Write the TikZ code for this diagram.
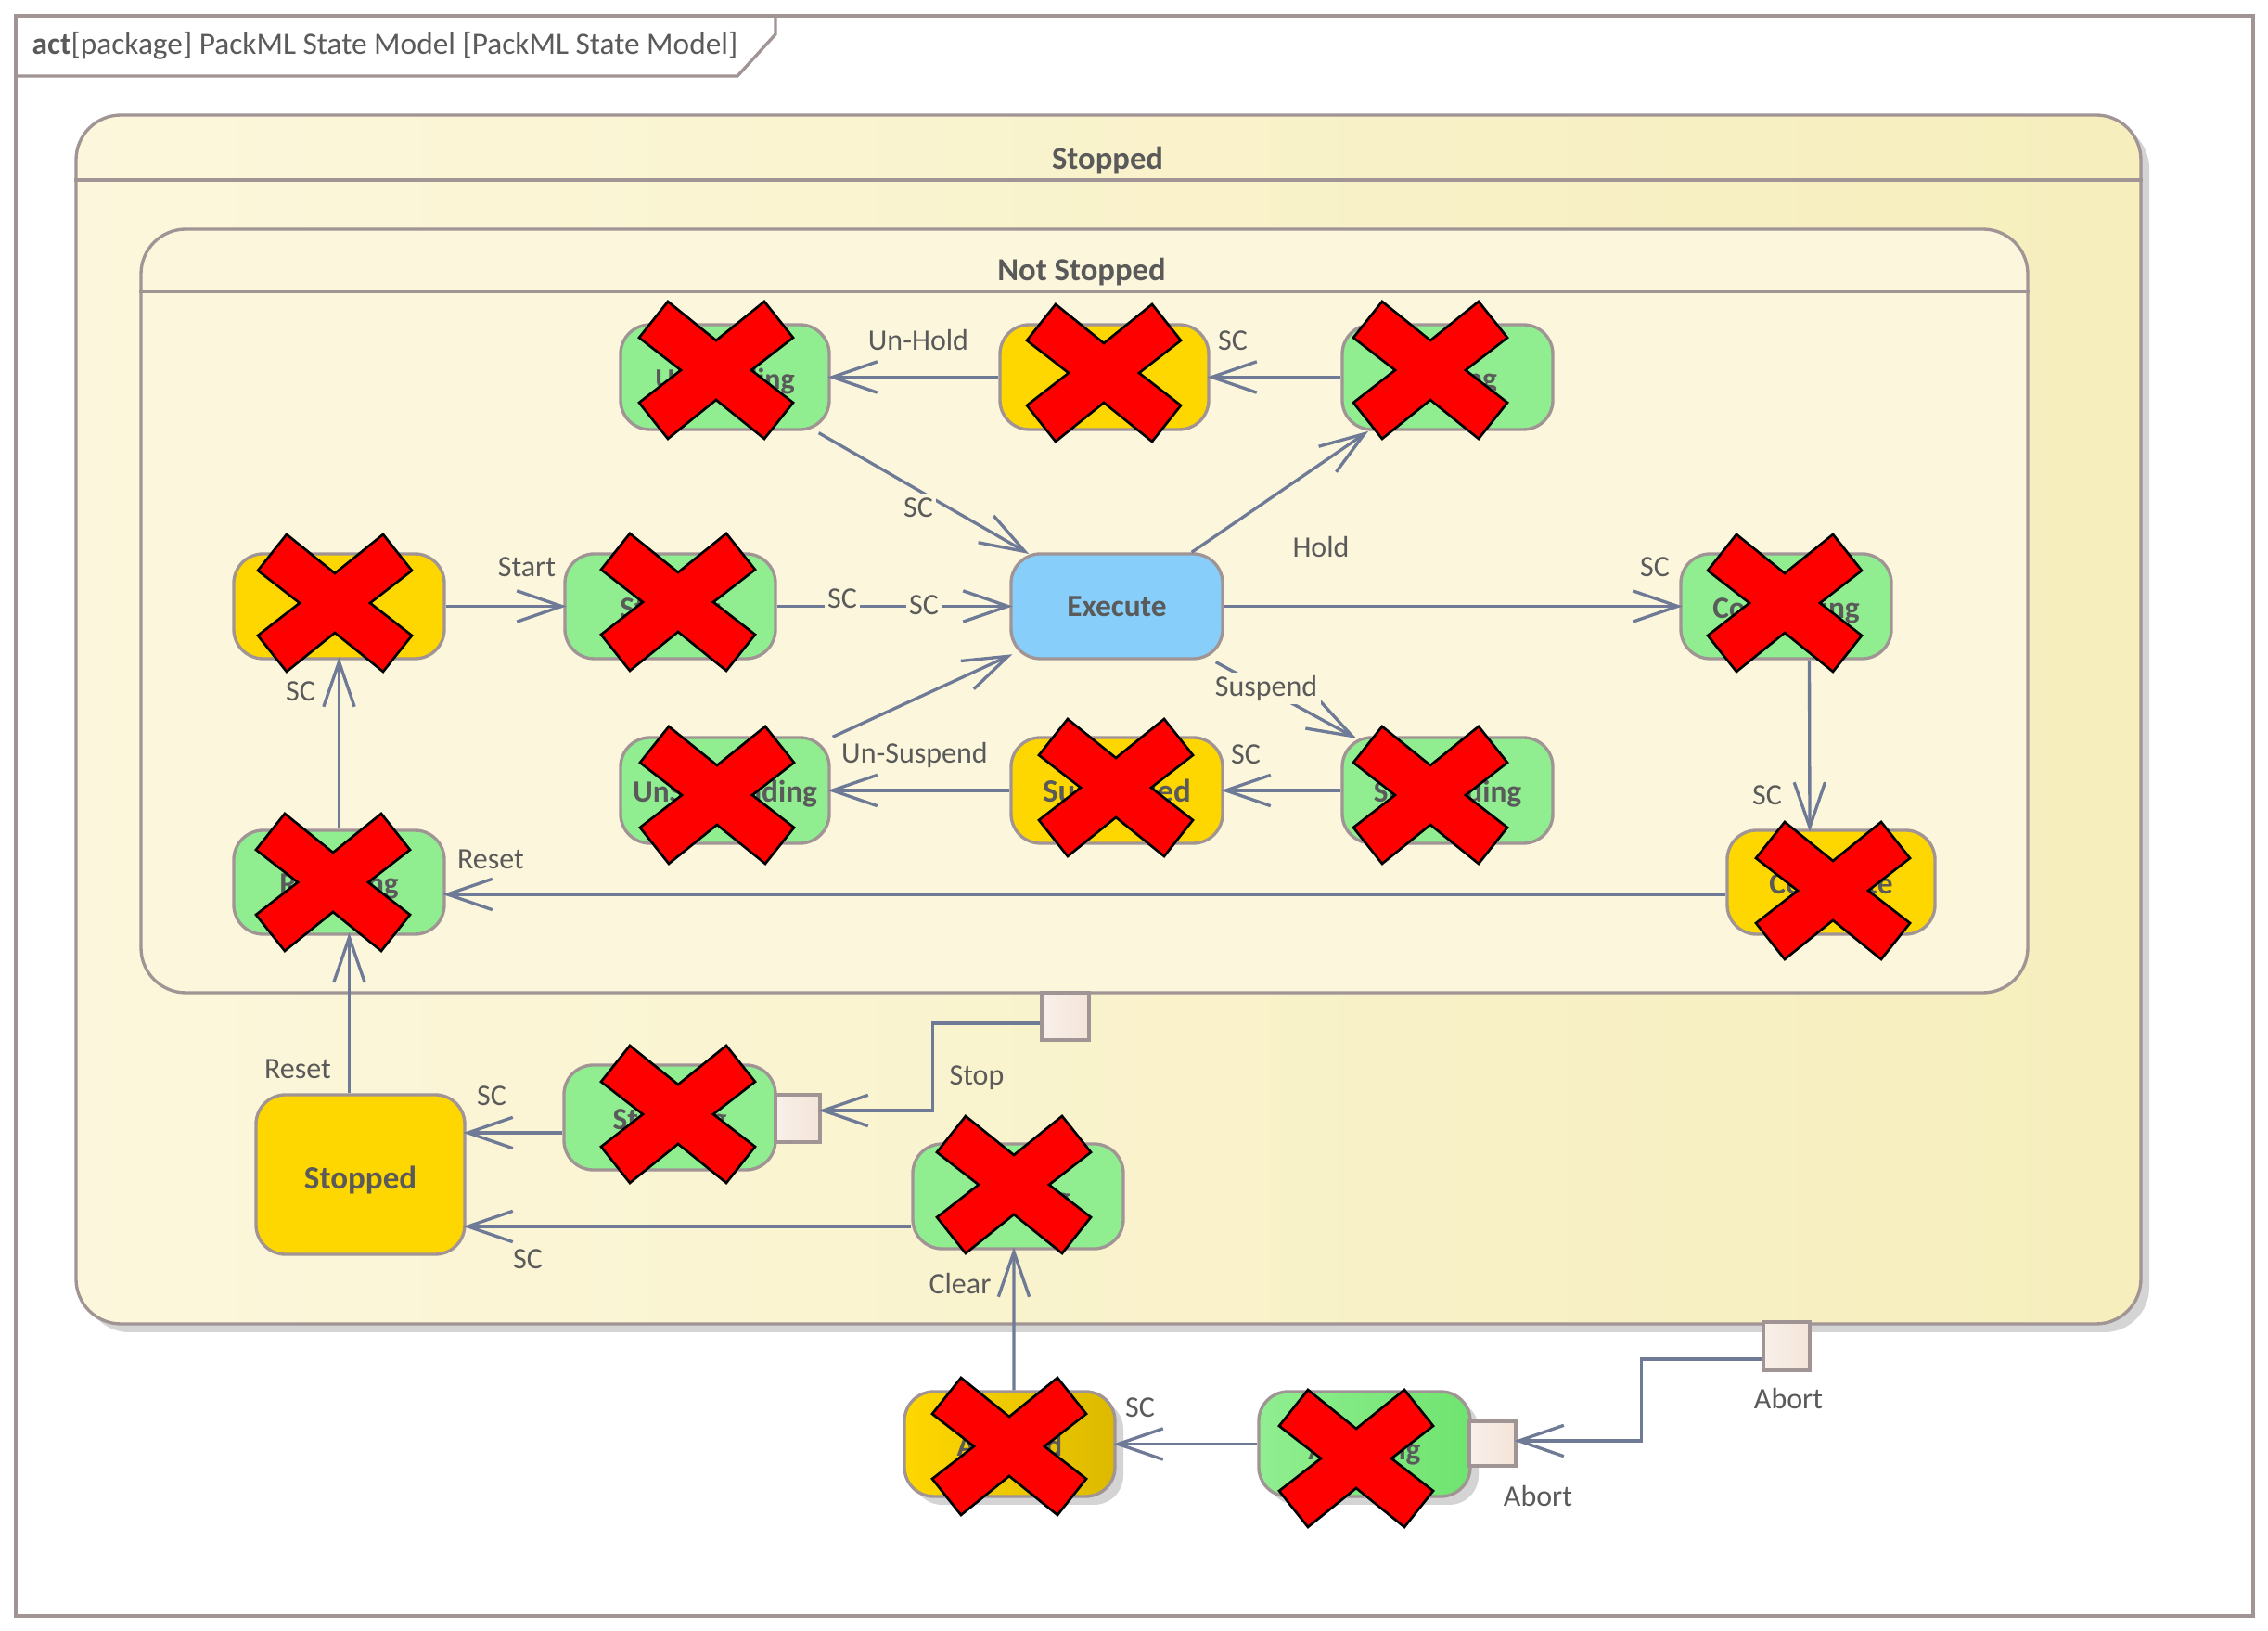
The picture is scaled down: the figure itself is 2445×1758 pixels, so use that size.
\documentclass[tikz,border=0pt]{standalone}
\usepackage{fontspec}
\setmainfont{Carlito}
\usetikzlibrary{arrows.meta,calc,shadows}
\definecolor{frameC}{HTML}{A09494}
\definecolor{wireC}{HTML}{6E7A96}
\definecolor{textC}{HTML}{5A5A5A}
\definecolor{creamC}{HTML}{FCF7DC}
\definecolor{creamR}{HTML}{F6EEBC}
\definecolor{creamM}{HTML}{F9F3D1}
\definecolor{greenC}{HTML}{90EE90}
\definecolor{greenD}{HTML}{6FE46F}
\definecolor{goldC}{HTML}{FFD700}
\definecolor{goldD}{HTML}{DDBA00}
\definecolor{blueC}{HTML}{87CEFA}
\definecolor{portC}{HTML}{F8F0EA}
\definecolor{portD}{HTML}{F4E4D8}
\newcommand{\sttext}[2][10]{\raisebox{-3.8pt}[0pt][0pt]{\fontsize{#1}{11}\selectfont #2}}
\tikzset{
  wh/.style 2 args={minimum width=#1*0.3pt,minimum height=#2*0.3pt},
  statebox/.style={draw=frameC,line width=1pt,rounded corners=9.5pt,inner sep=0pt,
    font=\bfseries,text=textC},
  grpbox/.style={draw=frameC,line width=1pt,rounded corners=14.5pt,inner sep=0pt},
  heading/.style={font=\fontsize{10.4}{12}\selectfont\bfseries,text=textC,inner sep=0pt},
  portbox/.style={draw=frameC,line width=1pt,inner sep=0pt,left color=portC,right color=portD},
  softshadow/.style={general shadow={fill=black!17,shadow xshift=2.7pt,shadow yshift=-2.7pt}},
  wire/.style={draw=wireC,line width=1pt,shorten >=-1pt,-{Straight Barb[length=14.5pt,width=10pt,line width=1pt]}},
  lab/.style={font=\fontsize{9.6}{11}\selectfont,text=textC,inner sep=1pt},
  labfill/.style={lab,fill=creamC},
  crossmark/.style={fill=red,draw=black,line width=0.8pt,line join=miter}
}
\newcommand{\crossat}[2]{\path[crossmark,shift={(#1,#2)}]
  (-52,-74)--(0,-32)--(52,-74)--(83,-35)--(38,0)--(83,35)--(52,74)--(0,32)--(-52,74)--(-83,35)--(-38,0)--(-83,-35)--cycle;}
\begin{document}
\begin{tikzpicture}[x=0.3pt,y=-0.3pt]
\useasboundingbox (0,0) rectangle (2445,1758);
\fill[white] (0,0) rectangle (2445,1758);
% frame
\draw[frameC,line width=1.2pt] (17,17) rectangle (2429,1742);
\draw[frameC,line width=1pt] (17,82) -- (795,82) -- (836,37) -- (836,17);
\node[anchor=west,inner sep=0pt,text=textC,font=\fontsize{10}{12}\selectfont] (title) at (34,49)
  {\textbf{act}[package] PackML State Model [PackML State Model]};
% groups
\node[grpbox,softshadow,wh={2226}{1303},left color=creamC,middle color=creamM,right color=creamR] (outer) at (1195,775.5) {};
\draw[frameC,line width=1pt] (outer.west |- 0,194) -- (outer.east |- 0,194);
\node[heading] (outerT) at (1194,173) {Stopped};
\node[grpbox,wh={2034}{823},fill=creamC] (inner) at (1169,658.5) {};
\draw[frameC,line width=1pt] (inner.west |- 0,314.5) -- (inner.east |- 0,314.5);
\node[heading] (innerT) at (1166,293) {Not Stopped};
% states
\node[statebox,wh={225}{113},fill=greenC] (unholding) at (781.5,406.5) {\sttext[9.6]{Un-Holding}};
\node[statebox,wh={225}{113},fill=goldC] (held) at (1190.5,406.5) {};
\node[statebox,wh={227}{113},fill=greenC] (holding) at (1560.5,406.5) {\sttext{Holding}};
\node[statebox,wh={227}{113},fill=goldC] (idle) at (365.5,653.5) {};
\node[statebox,wh={227}{113},fill=greenC] (starting) at (722.5,653.5) {\sttext{Starting}};
\node[statebox,wh={228}{113},fill=blueC] (execute) at (1204,653.5) {\raisebox{-3.4pt}[0pt][0pt]{\fontsize{10}{11}\selectfont Execute}};
\node[statebox,wh={227}{113},fill=greenC] (completing) at (1925.5,653.5) {\sttext{Completing}};
\node[statebox,wh={225}{114},fill=greenC] (unsuspending) at (781.5,852) {\sttext{UnSuspending}};
\node[statebox,wh={228}{114},fill=goldC] (suspended) at (1204,852) {\sttext[10.5]{Suspended}};
\node[statebox,wh={227}{114},fill=greenC] (suspending) at (1560.5,852) {\sttext{Suspending}};
\node[statebox,wh={227}{112},fill=greenC] (resetting) at (365.5,951) {\sttext{Resetting}};
\node[statebox,wh={224}{112},fill=goldC] (complete) at (1974,951) {\sttext{Complete}};
\node[statebox,wh={225}{172},fill=goldC] (stopped) at (388.5,1266) {\raisebox{-4.6pt}[0pt][0pt]{\fontsize{10.5}{11}\selectfont Stopped}};
\node[statebox,wh={228}{113},fill=greenC] (stopping) at (722,1204.5) {\sttext{Stopping}};
\node[statebox,wh={227}{113},fill=greenC] (clearing) at (1097.5,1289.5) {\sttext{Clearing}};
\node[statebox,softshadow,wh={227}{113},left color=goldC,middle color=goldC,right color=goldD] (aborted) at (1088.5,1556.5) {\sttext{Aborted}};
\node[statebox,softshadow,wh={228}{113},left color=greenC,right color=greenD] (aborting) at (1471,1556.5) {\raisebox{-5pt}[0pt][0pt]{\fontsize{10}{11}\selectfont Aborting}};
% ports
\node[portbox,wh={51}{51}] (nsport) at (1148.5,1095.5) {};
\node[portbox,wh={48}{51}] (stport) at (860,1205.5) {};
\node[portbox,wh={50}{52}] (abport) at (1926,1451) {};
\node[portbox,wh={50}{48}] (agport) at (1609,1556) {};
% connectors
\draw[wire] (held.west) -- (unholding.east);
\draw[wire] (holding.west) -- (held.east);
\draw[wire] ($(unholding.south east)+(-13,2)$) -- ($(execute.north west)+(18,0)$);
\draw[wire] ($(execute.north east)+(-35,0)$) -- ($(holding.south west)+(27,2)$);
\draw[wire] (idle.east) -- (starting.west);
\draw[wire] (starting.east) -- (execute.west);
\draw[wire] (execute.east) -- (completing.west);
\draw[wire] ($(unsuspending.north east)+(2,1)$) -- ($(execute.south west)+(0,-5)$);
\draw[wire] ($(execute.south east)+(-9,2)$) -- ($(suspending.north west)+(14,1)$);
\draw[wire] (suspending.west) -- (suspended.east);
\draw[wire] (suspended.west) -- (unsuspending.east);
\draw[wire] ($(completing.south)+(25,0)$) -- ($(complete.north)+(-23,0)$);
\draw[wire] ($(complete.west)+(0,13)$) -- ($(resetting.east)+(0,13)$);
\draw[wire] (resetting.north) -- (idle.south);
\draw[wire] ($(stopped.north)+(-12,0)$) -- ($(resetting.south)+(11,0)$);
\draw[wire] (stopping.west |- 0,1221) -- (stopped.east |- 0,1221);
\draw[wire] (clearing.west |- 0,1322) -- (stopped.east |- 0,1322);
\draw[wire] ($(aborted.north)+(4.5,0)$) -- ($(clearing.south)+(-4.5,0)$);
\draw[wire] (aborting.west) -- (aborted.east);
\draw[wire] (nsport.west |- 0,1103) -| (1005.5,1197) -- (stport.east |- 0,1197);
\draw[wire] (abport.west |- 0,1465) -| (1769.5,1553) -- (agport.east |- 0,1553);
% labels
\node[lab] (l1) at (990,367) {Un-Hold};
\node[lab] (l2) at (1329,367) {SC};
\node[labfill] (l3) at (990,547) {SC};
\node[lab] (l4) at (1424,590) {Hold};
\node[lab] (l5) at (568,611) {Start};
\node[labfill] (l6) at (908,645) {SC};
\node[labfill] (l7) at (996,652) {SC};
\node[lab] (l8) at (986,814) {Un-Suspend};
\node[lab] (l9) at (1343,813) {SC};
\node[labfill] (l10) at (1365,742) {Suspend};
\node[lab] (l11) at (1784,611) {SC};
\node[lab] (l12) at (1905,857) {SC};
\node[lab] (l13) at (324,745) {SC};
\node[lab] (l14) at (529,926) {Reset};
\node[lab] (l15) at (321,1152) {Reset};
\node[lab] (l16) at (530,1181) {SC};
\node[lab] (l17) at (569,1357) {SC};
\node[lab] (l18) at (1053,1162) {Stop};
\node[lab] (l19) at (1035,1384) {Clear};
\node[lab] (l20) at (1229,1517) {SC};
\node[lab] (l21) at (1928,1508) {Abort};
\node[lab] (l22) at (1658,1613) {Abort};
% crosses
\crossat{772}{399}
\crossat{1190}{402}
\crossat{1542}{399}
\crossat{361}{650}
\crossat{731}{649}
\crossat{773}{857}
\crossat{1203}{849}
\crossat{1542}{857}
\crossat{1924}{650}
\crossat{1976}{960}
\crossat{359}{951}
\crossat{731}{1201}
\crossat{1093}{1277}
\crossat{1088}{1559}
\crossat{1462}{1572}
\end{tikzpicture}
\end{document}
